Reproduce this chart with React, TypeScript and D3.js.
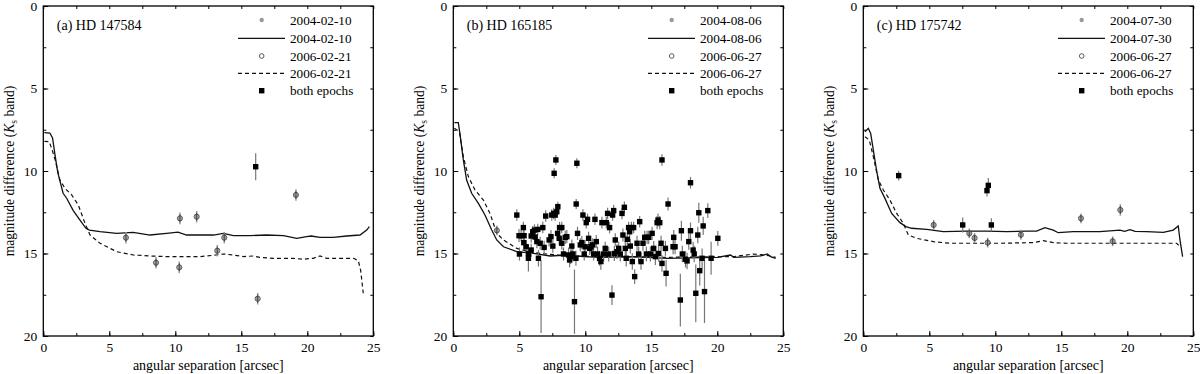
import React, { useRef, useEffect } from "react";
import * as d3 from "d3";

type P = [number, number];
type E = [number, number, number];

// ---- panel (a) HD 147584 ----
const solidA: P[] = [
  [0.08, 7.68], [0.5, 7.7], [0.7, 8.0], [0.9, 9.1], [1.1, 10.1], [1.5, 11.35], [1.77, 11.65],
  [2.27, 12.4], [2.78, 12.97], [3.23, 13.47], [3.5, 13.58], [4.3, 13.68], [5.56, 13.78],
  [6.8, 13.72], [8.08, 13.88], [9.34, 13.78], [10.2, 13.7], [10.86, 13.88], [11.87, 13.88],
  [12.9, 13.88], [13.64, 13.78], [14.4, 13.92], [15.66, 13.92], [16.9, 13.88], [18.2, 13.92],
  [19.2, 14.08], [19.95, 13.98], [20.3, 13.94], [20.96, 14.02], [21.97, 14.02], [22.98, 13.94],
  [23.99, 13.88], [24.5, 13.58], [24.7, 13.37],
];
const dashedA: P[] = [
  [0.08, 8.2], [0.45, 8.22], [0.7, 8.8], [0.9, 9.33], [1.26, 10.55], [1.64, 11.05], [2.15, 11.45],
  [2.65, 12.06], [3.16, 13.17], [3.54, 13.88], [4.3, 14.38], [5.56, 14.89], [6.82, 15.09],
  [8.08, 15.15], [9.34, 15.19], [10.6, 15.19], [11.87, 15.19], [13.1, 15.09], [13.64, 15.03],
  [14.4, 15.09], [15.15, 15.19], [15.9, 15.15], [16.4, 15.23], [17.4, 15.29], [18.9, 15.29],
  [19.7, 15.35], [20.45, 15.29], [20.96, 15.15], [21.46, 15.29], [22.2, 15.29], [23.5, 15.29],
  [23.86, 15.43], [24.04, 16.0], [24.24, 17.41],
];
const pairsA: E[] = [
  [6.26, 14.04, 0.35], [8.54, 15.56, 0.35], [10.35, 12.87, 0.35], [10.3, 15.84, 0.35],
  [11.62, 12.77, 0.35], [13.18, 14.83, 0.35], [13.71, 14.04, 0.35], [16.24, 17.74, 0.35],
  [19.14, 11.45, 0.35],
];
const bothA: E[] = [[16.09, 9.74, 0.82]];

// ---- panel (b) HD 165185 ----
const solidB: P[] = [
  [0.08, 7.07], [0.38, 7.07], [0.5, 7.72], [0.76, 9.33], [1.01, 10.55], [1.39, 11.35],
  [1.9, 11.96], [2.4, 12.67], [2.91, 13.58], [3.29, 14.18], [3.8, 14.59], [4.81, 14.89],
  [6.07, 14.99], [7.34, 15.15], [8.6, 15.09], [9.87, 15.19], [11.13, 15.23], [13.66, 15.19],
  [16.19, 15.29], [18.72, 15.25], [19.99, 15.23], [21.0, 15.09], [21.25, 15.23], [22.5, 15.19],
  [23.28, 15.15], [23.79, 15.03], [24.04, 15.19], [24.42, 15.29],
];
const dashedB: P[] = [
  [0.08, 7.41], [0.46, 7.62], [0.76, 9.13], [1.14, 10.34], [1.64, 11.15], [2.28, 11.76],
  [2.78, 12.57], [3.29, 13.78], [3.8, 14.18], [4.81, 14.69], [6.07, 14.95], [8.6, 15.15],
  [11.13, 15.19], [16.19, 15.23], [21.25, 15.19], [22.77, 15.03], [23.53, 15.09],
  [24.04, 15.15], [24.42, 15.23],
];
const pairsB: E[] = [[3.3, 13.6, 0.3]];
const bothB: E[] = [
  [4.81, 12.67, 0.35], [4.98, 13.92, 0.4], [5.01, 15.03, 0.4], [5.14, 13.92, 0.35], [5.36, 13.92, 0.35],
  [5.31, 13.43, 0.35], [5.34, 14.34, 0.4], [5.52, 14.59, 0.4], [5.69, 15.29, 0.8], [5.69, 15.0, 0.4],
  [5.9, 13.94, 0.4], [5.9, 14.79, 0.4], [6.02, 13.68, 0.35], [6.15, 13.58, 0.35], [6.2, 14.0, 0.4],
  [6.33, 14.28, 0.4], [6.4, 13.54, 0.35], [6.45, 15.29, 0.5], [6.58, 14.38, 0.4], [6.65, 17.62, 2.2],
  [6.78, 13.43, 0.35], [6.88, 14.63, 0.4], [7.0, 12.73, 0.35], [7.26, 14.18, 0.4], [7.4, 13.98, 0.4],
  [7.46, 12.67, 0.35], [7.54, 14.55, 0.4], [7.6, 12.57, 0.35], [7.64, 10.14, 0.3], [7.72, 12.67, 0.35],
  [7.77, 9.33, 0.3], [7.84, 12.47, 0.35], [7.92, 12.16, 0.3], [7.9, 13.78, 0.4], [8.02, 14.08, 0.4],
  [8.05, 13.43, 0.35], [8.22, 13.43, 0.35], [8.22, 14.38, 0.4], [8.35, 15.03, 0.4], [8.48, 14.02, 0.4],
  [8.6, 13.98, 0.4], [8.73, 15.09, 0.45], [8.81, 15.39, 0.45], [8.9, 15.19, 0.45], [8.98, 14.55, 0.4],
  [9.06, 15.03, 0.45], [9.18, 17.92, 1.95], [9.29, 15.29, 0.45], [9.31, 12.0, 0.3], [9.36, 9.53, 0.3],
  [9.41, 13.78, 0.4], [9.62, 14.48, 0.4], [9.74, 14.34, 0.4], [9.82, 12.67, 0.35], [9.92, 15.03, 0.4],
  [9.99, 14.59, 0.4], [10.07, 13.13, 0.35], [10.17, 12.93, 0.35], [10.25, 14.08, 0.4], [10.33, 14.69, 0.4],
  [10.43, 14.59, 0.4], [10.56, 14.48, 0.4], [10.63, 15.03, 0.4], [10.73, 12.93, 0.35], [10.83, 14.28, 0.4],
  [10.93, 15.03, 0.45], [11.08, 15.29, 0.45], [11.18, 15.49, 0.5], [11.26, 13.13, 0.35], [11.39, 15.03, 0.45],
  [11.51, 14.69, 0.4], [11.59, 13.13, 0.35], [11.69, 12.57, 0.35], [11.77, 15.03, 0.45], [11.84, 13.43, 0.35],
  [12.02, 17.52, 0.6], [12.07, 12.67, 0.35], [12.15, 12.4, 0.35], [12.2, 15.0, 0.45], [12.27, 14.18, 0.4],
  [12.4, 14.89, 0.45], [12.53, 14.69, 0.4], [12.65, 15.03, 0.45], [12.78, 12.57, 0.35], [12.85, 13.88, 0.4],
  [12.96, 12.2, 0.35], [13.03, 14.69, 0.45], [13.1, 15.29, 0.5], [13.18, 14.14, 0.4], [13.28, 13.43, 0.35],
  [13.36, 13.68, 0.4], [13.41, 14.55, 0.45], [13.49, 13.43, 0.35], [13.56, 15.49, 0.5], [13.66, 13.43, 0.35],
  [13.74, 16.4, 0.45], [13.92, 14.38, 0.45], [14.04, 15.03, 0.45], [14.12, 13.07, 0.35], [14.22, 15.49, 0.5],
  [14.37, 14.38, 0.45], [14.5, 14.02, 0.4], [14.63, 15.03, 0.45], [14.68, 14.02, 0.4], [14.8, 14.02, 0.4],
  [14.93, 15.03, 0.45], [15.06, 13.78, 0.4], [15.18, 14.69, 0.45], [15.31, 15.19, 0.5], [15.44, 13.13, 0.4],
  [15.51, 12.97, 0.4], [15.56, 15.0, 0.5], [15.64, 13.13, 0.4], [15.74, 14.38, 0.45], [15.81, 9.33, 0.35],
  [15.81, 15.6, 0.5], [16.07, 14.69, 0.45], [16.12, 16.2, 0.8], [16.27, 12.0, 0.4], [16.65, 14.59, 0.45],
  [16.7, 14.02, 0.45], [16.8, 14.59, 0.45], [17.2, 17.82, 1.6], [17.28, 13.62, 0.6], [17.35, 15.03, 0.5],
  [17.59, 15.35, 0.5], [17.71, 15.45, 0.5], [17.84, 14.28, 0.5], [17.97, 13.62, 0.5], [17.97, 10.71, 0.35],
  [18.17, 14.79, 0.5], [18.25, 15.03, 0.5], [18.37, 17.41, 1.75], [18.52, 13.88, 0.5], [18.6, 12.53, 0.6],
  [18.67, 16.04, 0.9], [18.85, 15.29, 0.6], [18.93, 13.33, 0.55], [19.03, 17.31, 1.9], [19.28, 12.4, 0.45],
  [19.53, 15.29, 1.0], [20.04, 14.08, 0.45],
];

// ---- panel (c) HD 175742 ----
const solidC: P[] = [
  [0.13, 7.62], [0.38, 7.41], [0.56, 7.72], [0.76, 8.73], [1.0, 9.94], [1.26, 11.05], [1.64, 11.66],
  [2.15, 12.57], [2.78, 13.13], [3.23, 13.37], [3.66, 13.47], [4.8, 13.54], [6.06, 13.68],
  [7.83, 13.64], [9.34, 13.64], [10.86, 13.68], [12.37, 13.64], [13.13, 13.64], [13.76, 13.43],
  [14.39, 13.58], [14.77, 13.74], [15.9, 13.68], [17.93, 13.68], [19.44, 13.58], [19.8, 13.66],
  [20.2, 13.55], [20.6, 13.66], [21.46, 13.68], [22.73, 13.72], [23.48, 13.58], [23.86, 13.33],
  [23.99, 14.18], [24.19, 15.19],
];
const dashedC: P[] = [
  [0.13, 7.92], [0.45, 8.12], [0.76, 9.13], [1.14, 10.55], [1.52, 11.15], [2.02, 11.76],
  [2.53, 12.57], [3.03, 13.17], [3.41, 13.88], [4.04, 14.08], [5.3, 14.28], [6.57, 14.38],
  [10.35, 14.38], [12.88, 14.34], [13.64, 14.22], [14.39, 14.34], [15.4, 14.38], [20.45, 14.38],
  [23.74, 14.38], [23.99, 14.59],
];
const pairsC: E[] = [
  [5.33, 13.27, 0.3], [8.03, 13.78, 0.3], [8.43, 14.06, 0.3], [9.42, 14.34, 0.3],
  [11.94, 13.86, 0.3], [16.49, 12.87, 0.3], [18.89, 14.26, 0.3], [19.47, 12.36, 0.35],
];
const bothC: E[] = [
  [2.68, 10.28, 0.3], [7.53, 13.27, 0.45], [9.37, 11.19, 0.35], [9.47, 10.87, 0.45], [9.7, 13.27, 0.4],
];

const titles = ["(a) HD 147584", "(b) HD 165185", "(c) HD 175742"];
const legendDates = [
  ["2004-02-10", "2006-02-21"],
  ["2004-08-06", "2006-06-27"],
  ["2004-07-30", "2006-06-27"],
];
const xTicks = [0, 5, 10, 15, 20, 25];
const yTicks = [0, 5, 10, 15, 20];

const panels = [
  { solid: solidA, dashed: dashedA, pairs: pairsA, both: bothA },
  { solid: solidB, dashed: dashedB, pairs: pairsB, both: bothB },
  { solid: solidC, dashed: dashedC, pairs: pairsC, both: bothC },
];

const FONT = '"Liberation Serif", "DejaVu Serif", serif';
const GRAY = "#9a9a9a";

export default function App() {
  const ref = useRef<SVGSVGElement>(null);

  useEffect(() => {
    const svg = d3.select(ref.current);
    svg.selectAll("*").remove();

    const lefts = [43.3, 453.3, 863.3];
    const top = 6;
    const size = 330;

    panels.forEach((pd, i) => {
      const g = svg.append("g").attr("transform", `translate(${lefts[i]},${top})`);
      const x = d3.scaleLinear().domain([0, 25]).range([0, size]);
      const y = d3.scaleLinear().domain([0, 20]).range([0, size]);
      const line = d3.line<P>().x((d) => x(d[0])).y((d) => y(d[1]));

      const minorX = d3.range(0, 25.01, 2.5);
      const minorY = d3.range(0, 20.01, 2.5);

      // axes with inward ticks, mirrored on top and right
      const styleAxis = (sel: any) => {
        sel.attr("font-family", null).attr("font-size", null);
        sel.selectAll(".domain").remove();
        sel.selectAll("line").attr("stroke", "#000").attr("stroke-width", 1);
        sel.selectAll("text").style("font-family", FONT).style("font-size", "13.5px").attr("fill", "#000");
      };
      g.append("g").attr("transform", `translate(0,${size})`)
        .call(d3.axisBottom(x).tickValues(minorX).tickSizeInner(-3).tickSizeOuter(0).tickFormat(() => ""))
        .call(styleAxis);
      g.append("g").attr("transform", `translate(0,${size})`)
        .call(d3.axisBottom(x).tickValues(xTicks).tickSizeInner(-5).tickSizeOuter(0).tickPadding(6).tickFormat(d3.format("d")))
        .call(styleAxis);
      g.append("g")
        .call(d3.axisTop(x).tickValues(minorX).tickSizeInner(-3).tickSizeOuter(0).tickFormat(() => ""))
        .call(styleAxis);
      g.append("g")
        .call(d3.axisLeft(y).tickValues(minorY).tickSizeInner(-3).tickSizeOuter(0).tickFormat(() => ""))
        .call(styleAxis);
      g.append("g")
        .call(d3.axisLeft(y).tickValues(yTicks).tickSizeInner(-5).tickSizeOuter(0).tickPadding(6).tickFormat(d3.format("d")))
        .call(styleAxis);
      g.append("g").attr("transform", `translate(${size},0)`)
        .call(d3.axisRight(y).tickValues(minorY).tickSizeInner(-3).tickSizeOuter(0).tickFormat(() => ""))
        .call(styleAxis);

      g.append("rect").attr("width", size).attr("height", size)
        .attr("fill", "none").attr("stroke", "#000").attr("stroke-width", 1.3);

      // detection limit curves
      g.append("path").attr("d", line(pd.solid))
        .attr("fill", "none").attr("stroke", "#111").attr("stroke-width", 1.3);
      g.append("path").attr("d", line(pd.dashed))
        .attr("fill", "none").attr("stroke", "#111").attr("stroke-width", 1.2)
        .attr("stroke-dasharray", "4,3");

      // pairs: gray filled point (first epoch) + open circle (second epoch)
      const pairs = g.append("g");
      pd.pairs.forEach(([px, py, e]) => {
        pairs.append("line").attr("x1", x(px)).attr("x2", x(px)).attr("y1", y(py - e)).attr("y2", y(py + e))
          .attr("stroke", GRAY).attr("stroke-width", 1.5);
        pairs.append("circle").attr("cx", x(px)).attr("cy", y(py)).attr("r", 2.2).attr("fill", GRAY);
        pairs.append("line").attr("x1", x(px)).attr("x2", x(px)).attr("y1", y(py - e * 0.7)).attr("y2", y(py + e * 0.7))
          .attr("stroke", "#333").attr("stroke-width", 0.8);
        pairs.append("circle").attr("cx", x(px)).attr("cy", y(py)).attr("r", 2.6)
          .attr("fill", "none").attr("stroke", "#333").attr("stroke-width", 0.8);
      });

      // both epochs
      const both = g.append("g");
      pd.both.forEach(([px, py, e]) => {
        both.append("line").attr("x1", x(px)).attr("x2", x(px)).attr("y1", y(py - e)).attr("y2", y(py + e))
          .attr("stroke", "#777").attr("stroke-width", 1.2);
      });
      pd.both.forEach(([px, py]) => {
        both.append("rect").attr("x", x(px) - 2.7).attr("y", y(py) - 2.7).attr("width", 5.4).attr("height", 5.4)
          .attr("fill", "#000");
      });

      // title
      g.append("text").attr("x", 13.5).attr("y", 24).style("font-family", FONT).style("font-size", "14px")
        .text(titles[i]);

      // legend
      const lg = g.append("g").style("font-family", FONT).style("font-size", "13.2px");
      const rows = [14, 32.3, 50, 67.3, 84.7];
      const tx = 246.7;
      const labels = [legendDates[i][0], legendDates[i][0], legendDates[i][1], legendDates[i][1], "both epochs"];
      labels.forEach((t, k) => {
        lg.append("text").attr("x", tx).attr("y", rows[k] + 4.5).text(t);
      });
      lg.append("circle").attr("cx", 218.4).attr("cy", rows[0]).attr("r", 2.2).attr("fill", GRAY);
      lg.append("line").attr("x1", 194.7).attr("x2", 241.7).attr("y1", rows[1]).attr("y2", rows[1])
        .attr("stroke", "#111").attr("stroke-width", 1.3);
      lg.append("circle").attr("cx", 218.4).attr("cy", rows[2]).attr("r", 2.3)
        .attr("fill", "none").attr("stroke", "#333").attr("stroke-width", 0.8);
      lg.append("line").attr("x1", 194.7).attr("x2", 241.7).attr("y1", rows[3]).attr("y2", rows[3])
        .attr("stroke", "#111").attr("stroke-width", 1.2).attr("stroke-dasharray", "4,3");
      lg.append("rect").attr("x", 218.4 - 2.7).attr("y", rows[4] - 2.7).attr("width", 5.4).attr("height", 5.4)
        .attr("fill", "#000");

      // axis labels
      g.append("text").attr("x", size / 2).attr("y", size + 34).attr("text-anchor", "middle")
        .style("font-family", FONT).style("font-size", "14px").text("angular separation [arcsec]");

      const yl = g.append("text").attr("transform", `translate(-29,${size / 2}) rotate(-90)`)
        .attr("text-anchor", "middle").style("font-family", FONT).style("font-size", "13.6px");
      yl.append("tspan").text("magnitude difference (");
      yl.append("tspan").attr("font-style", "italic").text("K");
      yl.append("tspan").style("font-size", "9.5px").attr("dy", 3).text("s");
      yl.append("tspan").attr("dy", -3).text(" band)");
    });
  }, []);

  return (
    <svg
      ref={ref}
      width={1200}
      height={374}
      style={{ position: "absolute", left: 0, top: 0, background: "#fff" }}
    />
  );
}
